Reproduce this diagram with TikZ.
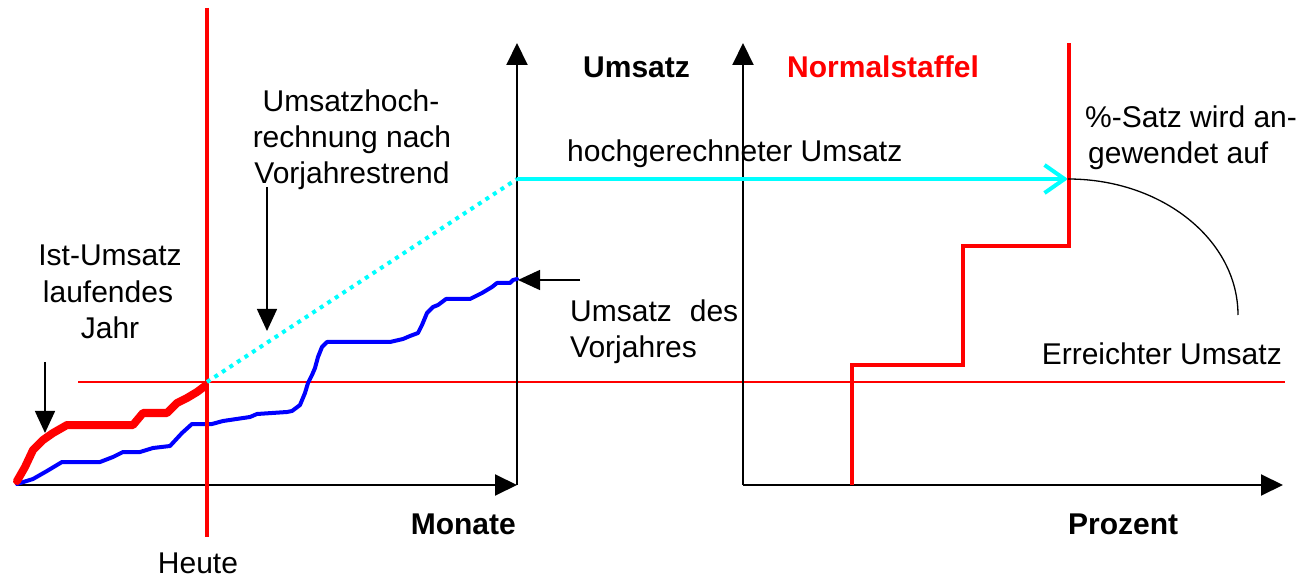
\documentclass[tikz,border=0pt]{standalone}
\usepackage{fontspec}
\setmainfont{Liberation Sans}
\usetikzlibrary{arrows.meta}
\definecolor{myred}{RGB}{255,0,0}
\definecolor{myblue}{RGB}{0,0,255}
\definecolor{mycyan}{RGB}{0,255,255}
\tikzset{
  lbl/.style={inner sep=0pt, font=\fontsize{30}{36}\selectfont},
  blbl/.style={inner sep=0pt, font=\fontsize{30}{36}\selectfont\bfseries},
  axis/.style={draw=black, line width=2pt, -{Triangle[length=22pt,width=21pt]}},
  ptr/.style={draw=black, line width=1.5pt, -{Triangle[length=22pt,width=20pt]}},
  redthin/.style={draw=myred, line width=2pt},
  redmid/.style={draw=myred, line width=4.5pt},
  redstep/.style={draw=myred, line width=4pt, line join=miter},
}
\begin{document}
\begin{tikzpicture}[x=1pt,y=-1pt]
\useasboundingbox (0,0) rectangle (1310,577);
% coordinates
\coordinate (o1) at (17,485);
\coordinate (x1) at (517,485);
\coordinate (y1b) at (517,485);
\coordinate (y1) at (517,43);
\coordinate (o2) at (743,485);
\coordinate (x2) at (1283,485);
\coordinate (y2) at (743,43);
\coordinate (now) at (207,382);
\coordinate (proj) at (517,179);
\coordinate (hit) at (1068,179);
\coordinate (heuteT) at (207,8);
\coordinate (heuteB) at (207,537);
\coordinate (hl) at (78,382);
\coordinate (hr) at (1285,382);
\coordinate (arcE) at (1238,315);

% horizontal red line (erreichter Umsatz)
\draw[redthin] (hl) -- (hr);

% left axes
\draw[axis] (o1) -- (x1);
\draw[axis] (y1b) -- (y1);
% right axes
\draw[axis] (o2) -- (x2);
\draw[axis] (o2) -- (y2);

% blue curve (Vorjahr)
\draw[myblue, line width=4pt, line join=round, line cap=round]
  (17,484) -- (33,479) -- (47,471) -- (62,462) -- (100,462) -- (113,457) -- (123,452) -- (140,452)
  -- (153,448) -- (170,446) -- (182,433) -- (192,424) -- (212,424) -- (223,421) -- (250,417)
  -- (257,414) -- (287,412) -- (292,411) -- (300,405) -- (305,393) -- (308,383) -- (312,375)
  -- (315,368) -- (318,357) -- (322,347) -- (327,342) -- (390,342) -- (403,339) -- (410,336)
  -- (418,333) -- (422,325) -- (427,313) -- (433,307) -- (438,305) -- (446,299) -- (470,299)
  -- (482,293) -- (492,287) -- (497,283) -- (510,283) -- (513,280) -- (517,279);

% red thick curve (Ist)
\draw[myred, line width=8pt, line join=round, line cap=round]
  (17,481) -- (25,467) -- (33,450) -- (43,440) -- (53,433) -- (67,425) -- (133,425) -- (143,413)
  -- (167,413) -- (177,403) -- (187,398) -- (197,392) -- (205,386);

% Heute line
\draw[redmid] (heuteT) -- (heuteB);

% projection
\draw[mycyan, line width=4pt, dash pattern=on 4pt off 5pt] (now) -- (proj);
\draw[mycyan, line width=4pt, -{Straight Barb[length=20pt,width=28pt,line width=4pt]}] (proj) -- (hit);

% step function
\draw[redstep] (852,485) -- (852,365) -- (963,365) -- (963,246) -- (1069,246) -- (1069,43);

% arc
\draw[black, line width=1.3pt] (hit) .. controls (1162,179) and (1238,240) .. (arcE);

% pointer arrows
\coordinate (p1s) at (45,362);
\coordinate (p1e) at (45,433);
\draw[ptr] (p1s) -- (p1e);
\coordinate (p2s) at (267,187);
\coordinate (p2e) at (267,331);
\draw[ptr] (p2s) -- (p2e);
\coordinate (p3s) at (580,280);
\coordinate (p3e) at (518,280);
\draw[ptr] (p3s) -- (p3e);

% labels
\node[lbl, anchor=base] (heute) at (198,573) {Heute};
\node[blbl, anchor=base east] (monate) at (516,534) {Monate};
\node[blbl, anchor=base west] (prozent) at (1068,534) {Prozent};
\node[blbl, anchor=base west] (umsatz) at (583,78) {Umsatz};
\node[blbl, anchor=base west, text=myred] (normal) at (787,78) {Normalstaffel};
\node[lbl, anchor=base west] (hoch) at (567,162) {hochgerechneter Umsatz};
\node[lbl, anchor=base] (uh1) at (351,112) {Umsatzhoch-};
\node[lbl, anchor=base] (uh2) at (352,148) {rechnung nach};
\node[lbl, anchor=base] (uh3) at (352,184) {Vorjahrestrend};
\node[lbl, anchor=base] (ist1) at (110,266) {Ist-Umsatz};
\node[lbl, anchor=base] (ist2) at (108,303) {laufendes};
\node[lbl, anchor=base] (ist3) at (110,339) {Jahr};
\node[lbl, anchor=base west] (vj1) at (570,322) {Umsatz\hspace{18pt}des};
\node[lbl, anchor=base west] (vj2) at (570,358) {Vorjahres};
\node[lbl, anchor=base west] (pz1) at (1085,128) {\%-Satz wird an-};
\node[lbl, anchor=base west] (pz2) at (1088,164) {gewendet auf};
\node[lbl, anchor=base east] (err) at (1282,365) {Erreichter Umsatz};
\end{tikzpicture}
\end{document}
